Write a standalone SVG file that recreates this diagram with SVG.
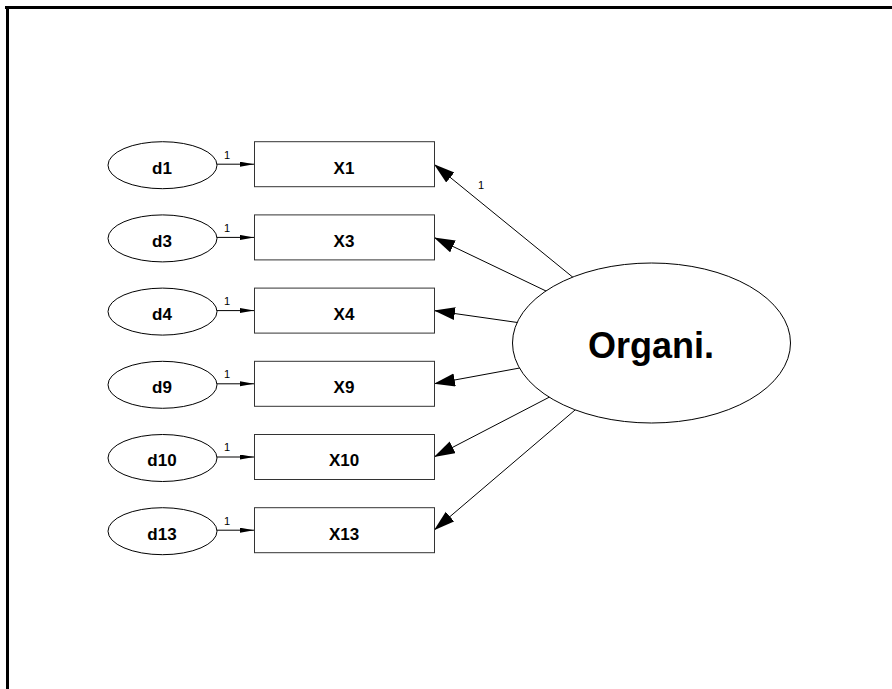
<svg xmlns="http://www.w3.org/2000/svg" width="892" height="689" viewBox="0 0 892 689">
<style>
.bg{fill:#ffffff}
.frame{fill:#000000}
.box{fill:#ffffff;stroke:#333333;stroke-width:1}
.ell{fill:#ffffff;stroke:#000000;stroke-width:1}
.lbl{font-family:"Liberation Sans",Arial,sans-serif;font-weight:bold;font-size:17px;fill:#000;text-anchor:middle}
.big{font-family:"Liberation Sans",Arial,sans-serif;font-weight:bold;font-size:36px;fill:#000;text-anchor:middle}
.one{font-family:"Liberation Sans",Arial,sans-serif;font-size:11px;fill:#000}
.con{stroke:#000;stroke-width:1;fill:none}
.big-arrow{marker-end:url(#bigHead)}
.small-arrow{marker-end:url(#smallHead)}
</style>
<defs>
<marker id="bigHead" markerUnits="userSpaceOnUse" markerWidth="22" markerHeight="14" refX="21" refY="6.5" orient="auto">
<path d="M0,0 L21,6.5 L0,13 Z" fill="#000"/>
</marker>
<marker id="smallHead" markerUnits="userSpaceOnUse" markerWidth="15" markerHeight="6" refX="14" refY="2.5" orient="auto">
<path d="M0,0 L14,2.5 L0,5 Z" fill="#000"/>
</marker>
</defs>
<rect class="bg" x="0" y="0" width="892" height="689"/>
<rect class="frame" x="5" y="6" width="887" height="3"/>
<rect class="frame" x="6" y="6" width="3" height="683"/>

<g id="connectors">
<line class="con small-arrow" x1="217" y1="164.2" x2="254" y2="164.2"/>
<line class="con small-arrow" x1="217" y1="237.4" x2="254" y2="237.4"/>
<line class="con small-arrow" x1="217" y1="310.6" x2="254" y2="310.6"/>
<line class="con small-arrow" x1="217" y1="383.8" x2="254" y2="383.8"/>
<line class="con small-arrow" x1="217" y1="457" x2="254" y2="457"/>
<line class="con small-arrow" x1="217" y1="530.2" x2="254" y2="530.2"/>
<line class="con big-arrow" x1="575" y1="279" x2="434" y2="164.2"/>
<line class="con big-arrow" x1="548.5" y1="292.2" x2="434" y2="237.4"/>
<line class="con big-arrow" x1="521" y1="323" x2="434" y2="310.6"/>
<line class="con big-arrow" x1="523" y1="367.4" x2="434" y2="383.8"/>
<line class="con big-arrow" x1="552.7" y1="395.4" x2="434" y2="457"/>
<line class="con big-arrow" x1="578.8" y1="406.8" x2="434" y2="530.2"/>
<text class="one" x="224" y="159">1</text>
<text class="one" x="224" y="232">1</text>
<text class="one" x="224" y="305">1</text>
<text class="one" x="224" y="378">1</text>
<text class="one" x="224" y="451">1</text>
<text class="one" x="224" y="525">1</text>
<text class="one" x="478" y="189">1</text>
</g>

<g id="d1"><ellipse class="ell" cx="162.5" cy="165.2" rx="54.5" ry="23.5"/><text class="lbl" x="162" y="173.5">d1</text></g>
<g id="d3"><ellipse class="ell" cx="162.5" cy="238.4" rx="54.5" ry="23.5"/><text class="lbl" x="162" y="246.7">d3</text></g>
<g id="d4"><ellipse class="ell" cx="162.5" cy="311.6" rx="54.5" ry="23.5"/><text class="lbl" x="162" y="319.9">d4</text></g>
<g id="d9"><ellipse class="ell" cx="162.5" cy="384.8" rx="54.5" ry="23.5"/><text class="lbl" x="162" y="393.1">d9</text></g>
<g id="d10"><ellipse class="ell" cx="162.5" cy="458" rx="54.5" ry="23.5"/><text class="lbl" x="162" y="466.3">d10</text></g>
<g id="d13"><ellipse class="ell" cx="162.5" cy="531.2" rx="54.5" ry="23.5"/><text class="lbl" x="162" y="539.5">d13</text></g>

<g id="X1"><rect class="box" x="254.5" y="141.7" width="180" height="45"/><text class="lbl" x="344" y="173.5">X1</text></g>
<g id="X3"><rect class="box" x="254.5" y="214.9" width="180" height="45"/><text class="lbl" x="344" y="246.7">X3</text></g>
<g id="X4"><rect class="box" x="254.5" y="288.1" width="180" height="45"/><text class="lbl" x="344" y="319.9">X4</text></g>
<g id="X9"><rect class="box" x="254.5" y="361.3" width="180" height="45"/><text class="lbl" x="344" y="393.1">X9</text></g>
<g id="X10"><rect class="box" x="254.5" y="434.5" width="180" height="45"/><text class="lbl" x="344" y="466.3">X10</text></g>
<g id="X13"><rect class="box" x="254.5" y="507.7" width="180" height="45"/><text class="lbl" x="344" y="539.5">X13</text></g>

<g id="Organi"><ellipse class="ell" cx="651.5" cy="343" rx="139" ry="80"/><text class="big" x="651" y="358">Organi.</text></g>
</svg>
